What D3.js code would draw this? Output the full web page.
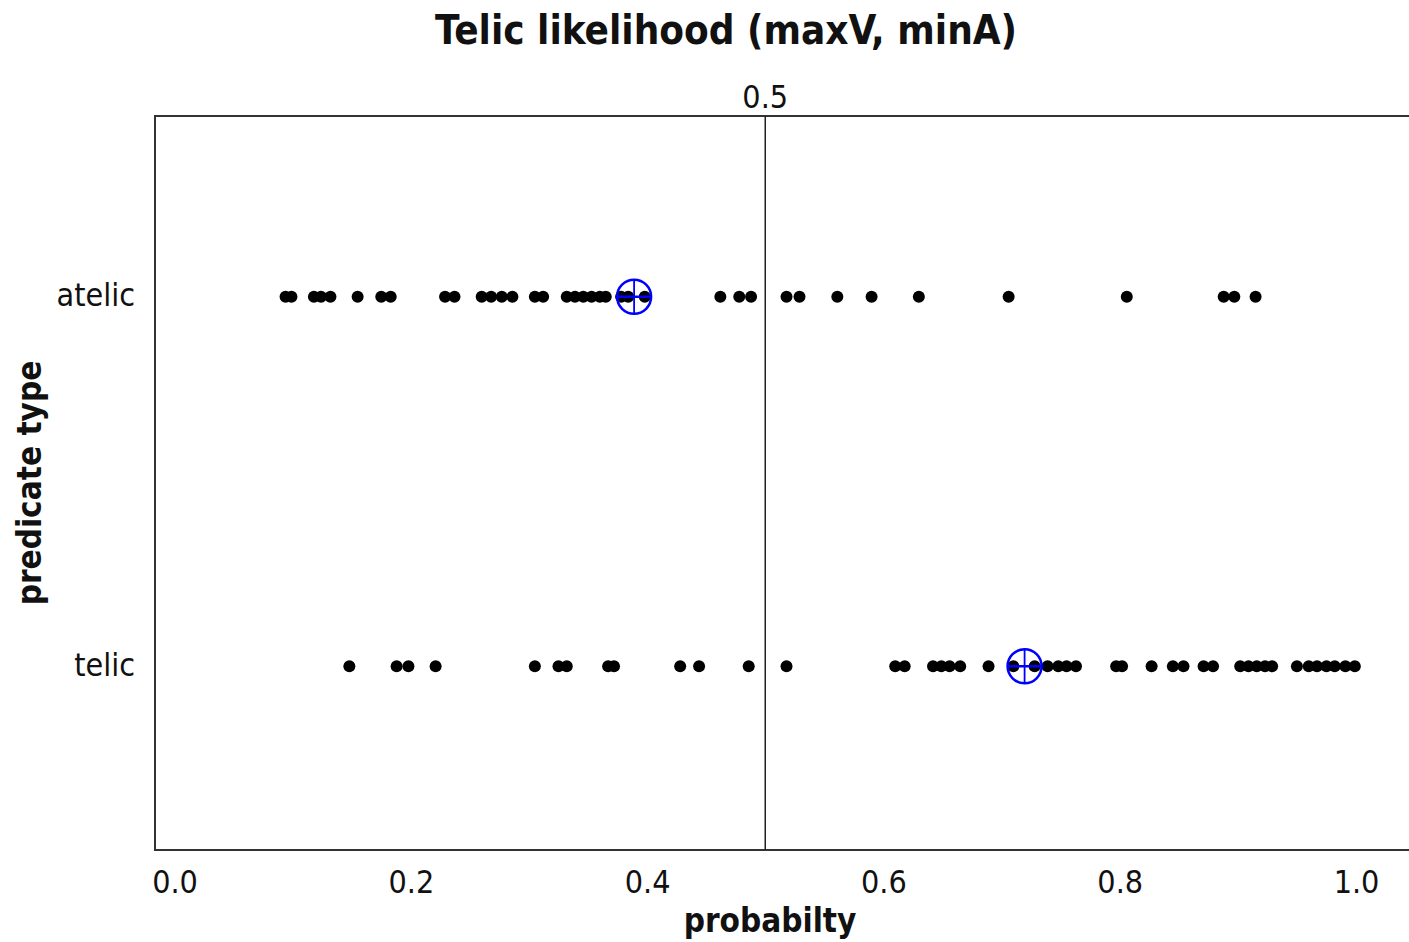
<!DOCTYPE html>
<html>
<head>
<meta charset="utf-8">
<script src="https://cdn.jsdelivr.net/npm/d3@7"></script>
<style>
  html, body { margin: 0; padding: 0; background: #fff; overflow: hidden; }
  svg { display: block; }
  text { font-family: "DejaVu Sans Condensed", "DejaVu Sans", sans-serif; fill: #111; }
</style>
</head>
<body>
<svg id="chart" width="1409" height="942"></svg>
<script>
// ---- data ----
const categories = ["atelic", "telic"];
const atelicValues = [0.094, 0.099, 0.118, 0.124, 0.132, 0.155, 0.175, 0.183, 0.229, 0.237,
  0.260, 0.268, 0.277, 0.286, 0.305, 0.312, 0.332, 0.339, 0.346, 0.353, 0.360, 0.365,
  0.378, 0.384, 0.398, 0.462, 0.478, 0.488, 0.518, 0.529, 0.561, 0.590, 0.630, 0.706,
  0.806, 0.888, 0.897, 0.915];
const telicValues = [0.148, 0.188, 0.198, 0.221, 0.305, 0.325, 0.332, 0.367, 0.372, 0.428,
  0.444, 0.486, 0.518, 0.610, 0.618, 0.642, 0.649, 0.656, 0.665, 0.689, 0.710, 0.728,
  0.739, 0.748, 0.755, 0.763, 0.797, 0.802, 0.827, 0.845, 0.854, 0.871, 0.879, 0.902,
  0.909, 0.916, 0.923, 0.929, 0.950, 0.960, 0.967, 0.975, 0.982, 0.991, 0.999];
const summaryValues = [0.389, 0.7195];   // blue crosshair markers, per category
const xTicks = [0.0, 0.2, 0.4, 0.6, 0.8, 1.0];
const refValue = 0.5;
const titleText = "Telic likelihood (maxV, minA)";
const xTitle = "probabilty";
const yTitle = "predicate type";

// ---- layout ----
const svg = d3.select("#chart");
const plot = { left: 155, top: 116, bottom: 850, right: 1414 };
const x = d3.scaleLinear().domain([0, 1]).range([174.5, 1356]);
const y = d3.scalePoint().domain(categories).range([112, 851]).padding(0.5);

// frame
svg.append("rect")
  .attr("x", plot.left).attr("y", plot.top)
  .attr("width", plot.right - plot.left).attr("height", plot.bottom - plot.top)
  .attr("fill", "none").attr("stroke", "#333").attr("stroke-width", 2);

// reference line
svg.append("line")
  .attr("x1", x(refValue)).attr("x2", x(refValue))
  .attr("y1", plot.top).attr("y2", plot.bottom)
  .attr("stroke", "#222").attr("stroke-width", 1.5);
svg.append("text")
  .attr("x", x(refValue)).attr("y", 108)
  .attr("text-anchor", "middle").attr("font-size", 32)
  .text(d3.format(".1f")(refValue));

// x axis labels (no tick marks)
const xAxis = d3.axisBottom(x).tickValues(xTicks).tickFormat(d3.format(".1f")).tickSize(0).tickPadding(0);
const gx = svg.append("g").attr("transform", `translate(0, ${plot.bottom})`).call(xAxis);
gx.select(".domain").remove();
gx.selectAll("text").attr("font-size", 32).attr("font-family", null).attr("fill", "#111")
  .attr("dy", null).attr("y", 43);

// y axis labels
const yAxis = d3.axisLeft(y).tickSize(0).tickPadding(0);
const gy = svg.append("g").attr("transform", `translate(${plot.left - 20}, 0)`).call(yAxis);
gy.select(".domain").remove();
gy.selectAll("text").attr("font-size", 32).attr("font-family", null).attr("fill", "#111")
  .attr("dy", "0.28em");

// dots
const series = [atelicValues, telicValues];
series.forEach((vals, i) => {
  svg.append("g").selectAll("circle")
    .data(vals).join("circle")
    .attr("cx", d => x(d)).attr("cy", y(categories[i]))
    .attr("r", 6).attr("fill", "#000");
});

// summary markers (circle with crosshair)
const r = 17;
const mk = svg.append("g").selectAll("g")
  .data(summaryValues).join("g")
  .attr("transform", (d, i) => `translate(${x(d)}, ${y(categories[i])})`);
mk.append("circle").attr("r", r).attr("fill", "none").attr("stroke", "#0000ff").attr("stroke-width", 2.5);
mk.append("line").attr("x1", -r).attr("x2", r).attr("y1", 0).attr("y2", 0)
  .attr("stroke", "#0000ff").attr("stroke-width", 2.5);
mk.append("line").attr("x1", 0).attr("x2", 0).attr("y1", -r).attr("y2", r)
  .attr("stroke", "#0000ff").attr("stroke-width", 1.8);

// titles
svg.append("text")
  .attr("x", 726).attr("y", 44).attr("text-anchor", "middle")
  .attr("font-size", 40).attr("font-weight", "bold")
  .text(titleText);
svg.append("text")
  .attr("x", 770).attr("y", 932).attr("text-anchor", "middle")
  .attr("font-size", 33).attr("font-weight", "bold")
  .text(xTitle);
svg.append("text")
  .attr("transform", "translate(41, 483) rotate(-90)").attr("text-anchor", "middle")
  .attr("font-size", 33).attr("font-weight", "bold")
  .text(yTitle);
</script>
</body>
</html>
